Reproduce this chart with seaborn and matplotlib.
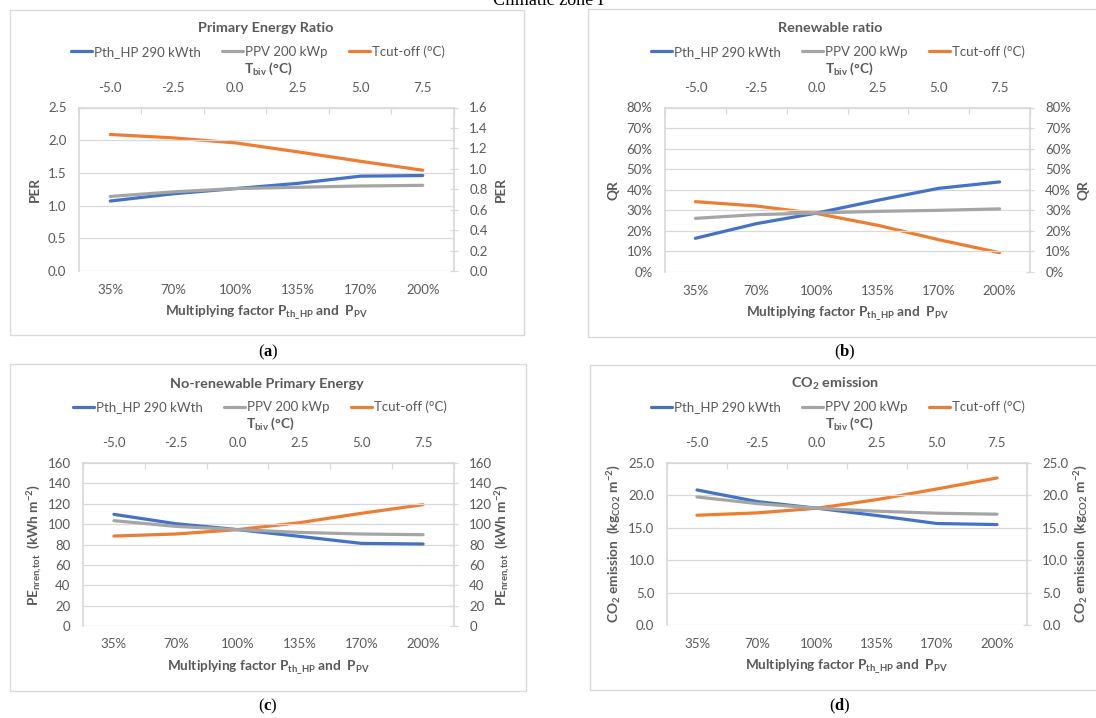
import numpy as np
import pandas as pd
import matplotlib
matplotlib.use("Agg")
import matplotlib.pyplot as plt
import matplotlib.transforms as mtransforms
from matplotlib.patches import Rectangle
from matplotlib.ticker import FixedLocator, FuncFormatter
import seaborn as sns

# ---------------- data ----------------
factors = ["35%", "70%", "100%", "135%", "170%", "200%"]
t_biv = ["-5.0", "-2.5", "0.0", "2.5", "5.0", "7.5"]
series_names = ["Pth_HP 290 kWth", "PPV 200 kWp", "Tcut-off (°C)"]

per_hp = [1.07, 1.18, 1.26, 1.34, 1.45, 1.46]
per_pv = [1.14, 1.21, 1.26, 1.28, 1.30, 1.31]
per_tcut = [1.336, 1.303, 1.254, 1.166, 1.074, 0.986]   # right axis

qr_hp = [16.4, 23.5, 28.7, 34.9, 40.7, 43.8]
qr_pv = [26.1, 27.9, 28.7, 29.5, 30.0, 30.7]
qr_tcut = [34.2, 32.1, 28.4, 22.7, 15.7, 9.4]

pe_hp = [109.6, 100.4, 94.6, 88.0, 81.1, 80.5]
pe_pv = [103.4, 97.8, 94.6, 91.9, 90.3, 89.6]
pe_tcut = [88.3, 90.3, 94.6, 101.4, 110.6, 119.1]

co2_hp = [20.84, 19.05, 18.02, 16.89, 15.66, 15.50]
co2_pv = [19.76, 18.74, 18.02, 17.56, 17.25, 17.10]
co2_tcut = [16.94, 17.30, 18.02, 19.35, 21.00, 22.69]

# ---------------- style ----------------
sns.set_theme(style="white")
plt.rcParams["font.family"] = ["Lato", "DejaVu Sans"]
plt.rcParams["mathtext.fontset"] = "custom"
plt.rcParams["mathtext.rm"] = "Lato:bold"
plt.rcParams["mathtext.it"] = "Lato:bold"
plt.rcParams["mathtext.bf"] = "Lato:bold"
plt.rcParams["mathtext.sf"] = "Liberation Serif:bold"
plt.rcParams["mathtext.default"] = "rm"

W, H = 1096, 718
fig = plt.figure(figsize=(W / 100, H / 100), dpi=100)
PX = mtransforms.Affine2D().scale(1 / W, -1 / H).translate(0, 1) + fig.transFigure

C_BLUE, C_GRAY, C_ORANGE = "#4472C4", "#A5A5A5", "#ED7D31"
TXT = "#595959"
GRID = "#D9D9D9"
LW = 2.3
TICK_FS = 9.5
LEG_FS = 9.5
TITLE_FS = 10.4
LAB_FS = 9.8


def rect(x0, x1, y0, y1):
    return [x0 / W, 1 - y1 / H, (x1 - x0) / W, (y1 - y0) / H]


panels = [
    dict(box=(10, 524, 10, 335), ax=(79, 454, 107.5, 271), title="Primary Energy Ratio",
         title_x=266, leg_x=258, cap="a", cap_x=268, cap_y=352,
         left=(per_hp, per_pv), right=per_tcut,
         lim=(0, 2.5, 0.5), rlim=(0, 1.6, 0.2), fmt="{:.1f}", rfmt="{:.1f}",
         ylabel="PER", ylx=(35, 501)),
    dict(box=(588, 1100, 9, 337), ax=(665, 1030, 107.5, 272), title="Renewable ratio",
         title_x=830, leg_x=838, cap="b", cap_x=845, cap_y=352,
         left=(qr_hp, qr_pv), right=qr_tcut,
         lim=(0, 80, 10), rlim=(0, 80, 10), fmt="{:.0f}%", rfmt="{:.0f}%",
         ylabel="QR", ylx=(613, 1083)),
    dict(box=(10, 526, 364, 691), ax=(83, 454, 463, 626), title="No-renewable Primary Energy",
         title_x=267, leg_x=260, cap="c", cap_x=268, cap_y=706,
         left=(pe_hp, pe_pv), right=pe_tcut,
         lim=(0, 160, 20), rlim=(0, 160, 20), fmt="{:.0f}", rfmt="{:.0f}",
         ylabel="PE$_{nren{,}tot}$  (kWh m$^{-2}$)", ylx=(35, 503)),
    dict(box=(590, 1100, 365, 690), ax=(667, 1027, 463, 625), title="CO$_2$ emission",
         title_x=835, leg_x=838, cap="d", cap_x=840, cap_y=706,
         left=(co2_hp, co2_pv), right=co2_tcut,
         lim=(0, 25, 5), rlim=(0, 25, 5), fmt="{:.1f}", rfmt="{:.1f}",
         ylabel="CO$_2$ emission  (kg$_{CO2}$ m$^{-2}$)", ylx=(614, 1081)),
]

for p in panels:
    bx0, bx1, by0, by1 = p["box"]
    fig.patches.append(Rectangle((bx0, by1), bx1 - bx0, by0 - by1, transform=PX,
                                 fill=False, edgecolor=GRID, lw=1.0))
    x0, x1, y0, y1 = p["ax"]
    ax = fig.add_axes(rect(x0, x1, y0, y1))
    ax2 = ax.twinx()
    ax3 = ax.twiny()

    df = pd.DataFrame({"factor": factors, "hp": p["left"][0], "pv": p["left"][1],
                       "tcut": p["right"]})
    sns.lineplot(data=df, x="factor", y="hp", ax=ax, color=C_BLUE, lw=LW,
                 label=series_names[0], legend=False, sort=False)
    sns.lineplot(data=df, x="factor", y="pv", ax=ax, color=C_GRAY, lw=LW,
                 label=series_names[1], legend=False, sort=False)
    sns.lineplot(data=df, x="factor", y="tcut", ax=ax2, color=C_ORANGE, lw=LW,
                 label=series_names[2], legend=False, sort=False)
    ax.set_zorder(ax2.get_zorder() + 1)
    ax.patch.set_visible(False)

    ax.set_xlim(-0.5, 5.5)
    ax3.set_xlim(-0.5, 5.5)
    lo, hi, st = p["lim"]
    rlo, rhi, rst = p["rlim"]
    ax.set_ylim(lo, hi)
    ax2.set_ylim(rlo, rhi)
    lt = np.arange(lo, hi + st / 2, st)
    rt = np.arange(rlo, rhi + rst / 2, rst)
    ax.yaxis.set_major_locator(FixedLocator(lt))
    ax2.yaxis.set_major_locator(FixedLocator(rt))
    ax.yaxis.set_major_formatter(FuncFormatter(lambda v, _, f=p["fmt"]: f.format(v)))
    ax2.yaxis.set_major_formatter(FuncFormatter(lambda v, _, f=p["rfmt"]: f.format(v)))

    ax.yaxis.grid(True, color=GRID, lw=0.9)
    ax.xaxis.grid(False)
    for a in (ax, ax2, ax3):
        for s in a.spines.values():
            s.set_visible(False)
    ax.spines["left"].set_visible(True)
    ax.spines["left"].set_color(GRID)
    ax2.spines["right"].set_visible(True)
    ax2.spines["right"].set_color(GRID)
    ax3.spines["top"].set_visible(True)
    ax3.spines["top"].set_color(GRID)

    ax.tick_params(axis="y", length=0, pad=9, labelsize=TICK_FS, labelcolor=TXT)
    ax.tick_params(axis="x", length=0, pad=9, labelsize=TICK_FS, labelcolor=TXT)
    ax2.tick_params(axis="y", direction="inout", length=6, width=0.9, color=GRID,
                    pad=8, labelsize=TICK_FS, labelcolor=TXT)

    ax3.set_xticks(range(len(t_biv)))
    ax3.set_xticklabels(t_biv)
    ax3.set_xticks(np.arange(-0.5, 6.0, 1.0), minor=True)
    ax3.tick_params(axis="x", which="major", length=0, pad=10, labelsize=TICK_FS,
                    labelcolor=TXT)
    ax3.tick_params(axis="x", which="minor", direction="in", length=4, width=0.9,
                    color=GRID)

    ax.set_xlabel("Multiplying factor P$_{th\\_HP}$ and  P$_{PV}$", fontsize=LAB_FS,
                  fontweight="bold", color=TXT)
    ax.xaxis.set_label_coords((x0 + x1) / 2, y1 + 41, transform=PX)
    ax.xaxis.label.set_va("center")
    ax.set_ylabel(p["ylabel"], fontsize=LAB_FS, fontweight="bold", color=TXT)
    ax.yaxis.set_label_coords(p["ylx"][0], (y0 + y1) / 2, transform=PX)
    ax.yaxis.label.set_va("center")
    ax2.set_ylabel(p["ylabel"], fontsize=LAB_FS, fontweight="bold", color=TXT)
    ax2.yaxis.set_label_coords(p["ylx"][1], (y0 + y1) / 2, transform=PX)
    ax2.yaxis.label.set_va("center")
    ax3.set_xlabel("")

    fig.text(p["title_x"], y0 - 79, p["title"], transform=PX, ha="center", va="center",
             fontsize=TITLE_FS, fontweight="bold", color=TXT)
    fig.text((x0 + x1) / 2 + 2, y0 - 39, "T$_{biv}$ (°C)", transform=PX, ha="center",
             va="center", fontsize=LAB_FS, fontweight="bold", color=TXT)

    handles = ax.get_lines() + ax2.get_lines()
    ax.legend(handles=handles, labels=series_names, loc="center",
              bbox_to_anchor=(p["leg_x"], y0 - 56), bbox_transform=PX, ncol=3,
              frameon=False, fontsize=LEG_FS, handlelength=1.6, handletextpad=0.15,
              columnspacing=1.6, labelcolor=TXT)

    fig.text(p["cap_x"], p["cap_y"], "($\\mathsf{" + p["cap"] + "}$)", transform=PX,
             ha="center", va="center", fontsize=12, family="Liberation Serif",
             color="black")

fig.text(548, 5, "Climatic zone I", transform=PX, ha="center", va="baseline",
         fontsize=13, family="Liberation Serif", color="black")

fig.savefig("out.png", dpi=100)
